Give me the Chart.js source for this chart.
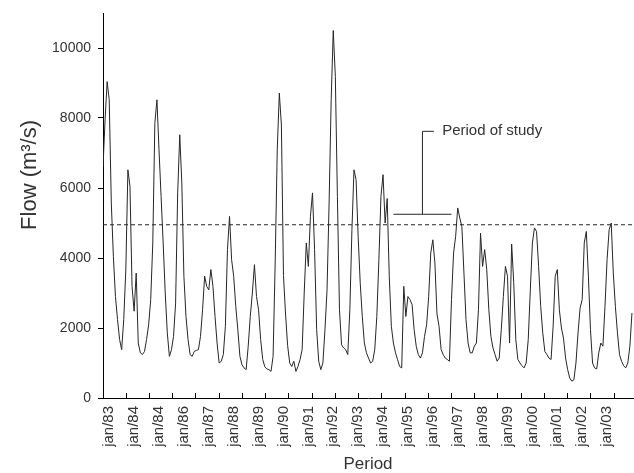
<!DOCTYPE html>
<html>
<head>
<meta charset="utf-8">
<script src="https://cdn.jsdelivr.net/npm/chart.js@4/dist/chart.umd.min.js"></script>
<style>
  html, body { margin: 0; padding: 0; background: #ffffff; }
  #wrap { width: 634px; height: 473px; }
</style>
</head>
<body>
<div id="wrap"><canvas id="c" width="634" height="473"></canvas></div>
<script>
// Monthly flow series (m3/s)
const flow = [
  6600, 7950, 9040, 8520, 5570, 4050, 2900, 2240, 1670, 1380, 2240, 3660,
  6520, 6050, 3190, 2480, 3570, 1570, 1290, 1240, 1330, 1670, 2090, 2810,
  4430, 7850, 8520, 7090, 5760, 4430, 3000, 1860, 1190, 1380, 1760, 2710,
  5860, 7520, 6140, 3480, 2330, 1670, 1240, 1190, 1330, 1360, 1380, 1760,
  2520, 3480, 3190, 3090, 3670, 3190, 2330, 1570, 1000, 1050, 1240, 2050,
  4240, 5190, 3950, 3480, 2620, 1950, 1190, 950, 860, 810, 1480, 2330,
  3000, 3810, 2900, 2520, 1670, 1100, 890, 830, 810, 760, 1190, 3860,
  7090, 8710, 7800, 3500, 2400, 1500, 1000, 900, 1050, 760, 900, 1100,
  1380, 3000, 4430, 3760, 5190, 5860, 4240, 1950, 1050, 810, 1000, 1950,
  3090, 5570, 8520, 10500, 9190, 5760, 2520, 1520, 1430, 1380, 1240, 2520,
  4810, 6520, 6240, 4620, 3280, 2330, 1570, 1290, 1140, 1000, 1050, 1380,
  2330, 3950, 5760, 6380, 5000, 5700, 3480, 2050, 1570, 1290, 1100, 900,
  860, 3190, 2330, 2900, 2810, 2670, 1950, 1480, 1240, 1140, 1290, 1760,
  2090, 2900, 4140, 4520, 3860, 2400, 2050, 1380, 1240, 1140, 1100, 1050,
  2810, 4140, 4620, 5430, 5140, 4900, 3570, 2240, 1570, 1290, 1290, 1480,
  1570, 2520, 4710, 3760, 4240, 3670, 2520, 1760, 1430, 1240, 1050, 1140,
  1950, 2900, 3760, 3480, 1570, 4400, 3300, 1670, 1100, 1000, 920, 860,
  1000, 1670, 3090, 4430, 4860, 4760, 3760, 2620, 1860, 1330, 1240, 1140,
  1100, 2050, 3480, 3670, 2520, 2000, 1710, 1140, 810, 570, 480, 520,
  1000, 1860, 2570, 2810, 4430, 4760, 3480, 1950, 1000, 860, 830, 1290,
  1570, 1480, 2620, 3950, 4810, 5000, 3570, 2620, 1860, 1240, 1050, 920,
  860, 1000, 1480, 2430
];

// Category labels of the time axis (as printed in the picture)
const xLabels = ['jan/83', 'jan/84', 'jan/84', 'jan/86', 'jan/87', 'jan/88', 'jan/89',
  'jan/90', 'jan/91', 'jan/92', 'jan/93', 'jan/94', 'jan/95', 'jan/96', 'jan/97',
  'jan/98', 'jan/99', 'jan/00', 'jan/01', 'jan/02', 'jan/03'];
const firstLabelMonth = 3;       // month index of the first "jan" label
const monthsPerLabel = 12;
const tickMarkStep = 11.2;       // tick-mark interval on the time axis (months)
const tickMarkCount = 23;

const yTicks = [0, 2000, 4000, 6000, 8000, 10000];
const yMax = 11000;
const tickMarkInset = 143;       // inward tick marks of the time axis start this far above 0

// Reference (dashed) level and "Period of study" bracket
const refLevel = [4950];
const bracketSpan = [140, 168];   // month indices of the bracket ends
const bracketStem = [154];        // month index of the stem
const bracketLevels = [5250, 7620];
const bracketLabel = ['Period of study'];
const bracketLabelAt = [163.5];

const TEXT = '#333333';
const LINE = '#262626';
const FONT = "'Liberation Sans', Arial, sans-serif";

const xMax = flow.length - 0.5;

Chart.defaults.font.family = FONT;
Chart.defaults.color = TEXT;

const annotationText = {
  id: 'annotationText',
  afterDatasetsDraw(chart) {
    const {ctx, scales} = chart;
    ctx.save();
    ctx.fillStyle = TEXT;
    ctx.font = '15px ' + FONT;
    ctx.textAlign = 'left';
    ctx.textBaseline = 'middle';
    ctx.fillText(bracketLabel[0],
      scales.x.getPixelForValue(bracketLabelAt[0]),
      scales.y.getPixelForValue(bracketLevels[1]));
    ctx.restore();
  }
};

new Chart(document.getElementById('c'), {
  type: 'line',
  data: {
    datasets: [
      {
        data: flow.map((v, i) => ({x: i, y: v})),
        borderColor: LINE,
        borderWidth: 1,
        pointRadius: 0,
        tension: 0,
        fill: false
      },
      {
        data: [{x: 0, y: refLevel[0]}, {x: xMax, y: refLevel[0]}],
        borderColor: LINE,
        borderWidth: 1,
        borderDash: [4, 3],
        pointRadius: 0,
        fill: false
      },
      {
        data: [
          {x: bracketSpan[0], y: bracketLevels[0]},
          {x: bracketSpan[1], y: bracketLevels[0]},
          {x: bracketSpan[1], y: null},
          {x: bracketStem[0], y: bracketLevels[0]},
          {x: bracketStem[0], y: bracketLevels[1]},
          {x: bracketStem[0] + 5.5, y: bracketLevels[1]}
        ],
        borderColor: LINE,
        borderWidth: 1,
        pointRadius: 0,
        spanGaps: false,
        fill: false
      }
    ]
  },
  options: {
    responsive: false,
    animation: false,
    devicePixelRatio: 1,
    layout: {padding: {top: 13, right: 1, left: 0, bottom: 0}},
    plugins: {legend: {display: false}, tooltip: {enabled: false}},
    scales: {
      xt: {
        type: 'linear',
        axis: 'x',
        display: true,
        position: {y: tickMarkInset},
        min: 0,
        max: xMax,
        afterBuildTicks: (s) => {
          s.ticks = Array.from({length: tickMarkCount}, (_, j) => ({value: j * tickMarkStep}));
        },
        ticks: {display: true, autoSkip: false, maxRotation: 0, padding: 0, font: {size: 1}, callback: () => ''},
        grid: {display: true, drawOnChartArea: false, drawTicks: true, tickLength: 5,
               color: '#000000', tickColor: '#000000', lineWidth: 1, tickWidth: 1},
        border: {display: false}
      },
      x: {
        type: 'linear',
        position: 'bottom',
        min: 0,
        max: xMax,
        afterBuildTicks: (s) => {
          s.ticks = xLabels.map((_, k) => ({value: firstLabelMonth + monthsPerLabel * k}));
        },
        ticks: {
          autoSkip: false,
          maxRotation: 90,
          minRotation: 90,
          padding: 8,
          color: TEXT,
          font: {size: 15},
          callback: (v, i) => xLabels[i]
        },
        grid: {drawOnChartArea: false, drawTicks: false, tickLength: 0},
        border: {display: true, color: '#000000', width: 1},
        title: {
          display: true,
          text: 'Period',
          color: TEXT,
          font: {size: 17, lineHeight: 1},
          padding: {top: 0, bottom: 0}
        },
        afterFit: (s) => { s.height = 75; s.paddingLeft = 0; s.paddingRight = 0; }
      },
      y: {
        type: 'linear',
        min: 0,
        max: yMax,
        afterBuildTicks: (s) => {
          s.ticks = yTicks.map(v => ({value: v}));
        },
        ticks: {padding: 7, color: TEXT, font: {size: 14}, callback: (v) => String(v)},
        grid: {drawOnChartArea: false, drawTicks: true, tickLength: 5, color: '#000000'},
        border: {display: true, color: '#000000', width: 1},
        title: {
          display: true,
          text: '          Flow (m\u00B3/s)',
          color: TEXT,
          font: {size: 22, lineHeight: 1.2},
          padding: {top: 17, bottom: 0}
        },
        afterFit: (s) => { s.width = 103; s.paddingTop = 0; s.paddingBottom = 0; }
      }
    }
  },
  plugins: [annotationText]
});
</script>
</body>
</html>
